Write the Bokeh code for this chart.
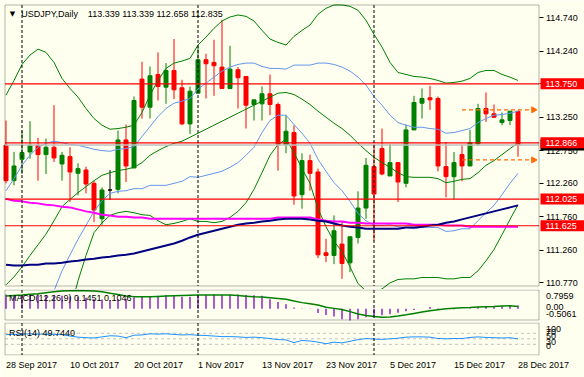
import numpy as np
import pandas as pd
from bokeh.plotting import figure
from bokeh.layouts import column
from bokeh.models import (Range1d, Label, FixedTicker, PrintfTickFormatter, ColumnDataSource,
                          LinearAxis, BoxAnnotation)
from bokeh.core.properties import value
from bokeh.embed import file_html
from bokeh.resources import INLINE

# ---------------- data ----------------
symbol_name = "USDJPY,Daily"
symbol_ohlc = "113.339 113.339 112.658 112.835"
macd_title = "MACD(12,26,9) 0.1451 0.1046"
rsi_title = "RSI(14) 49.7440"

trading_days = pd.bdate_range("2017-09-28", "2017-12-28")
trading_days = trading_days[trading_days != pd.Timestamp("2017-12-25")]

opens = [112.83, 112.30, 112.62, 112.73, 112.83, 112.69, 112.80, 112.55, 112.66, 112.41,
         112.46, 112.26, 111.73, 112.16, 112.17, 112.91, 112.49, 113.82, 113.40, 113.89,
         113.70, 113.95, 113.69, 113.15, 113.61, 114.11, 114.07, 114.00, 113.68, 113.96,
         113.86, 113.44, 113.45, 113.60, 113.44, 112.84, 113.02, 112.09, 112.60, 112.43,
         111.22, 111.18, 111.35, 111.07, 111.45, 111.89, 112.51, 112.78, 112.37, 112.57,
         112.26, 113.06, 113.46, 113.54, 113.53, 112.51, 112.36, 112.69, 112.52, 112.85,
         113.38, 113.30, 113.17, 113.20, 113.339]
highs = [113.20, 112.73, 113.05, 113.19, 112.94, 112.93, 113.43, 112.73, 112.80, 112.56,
         112.51, 112.30, 112.20, 112.46, 113.05, 113.14, 113.56, 114.08, 114.01, 114.22,
         114.06, 114.42, 113.81, 113.71, 114.31, 114.20, 114.41, 114.71, 114.32, 114.00,
         113.86, 113.51, 113.71, 113.89, 113.47, 113.28, 113.13, 112.71, 112.69, 112.48,
         111.43, 111.78, 111.69, 111.46, 112.14, 112.64, 112.85, 113.08, 112.85, 112.57,
         113.14, 113.57, 113.68, 113.72, 113.56, 112.88, 112.73, 112.83, 113.06, 113.45,
         113.62, 113.44, 113.32, 113.34, 113.339]
lows = [112.26, 112.23, 112.40, 112.63, 112.30, 112.40, 112.58, 112.30, 111.98, 112.08,
        112.11, 111.68, 111.64, 112.01, 112.11, 112.28, 112.49, 113.23, 113.23, 113.50,
        113.45, 113.52, 113.13, 113.00, 113.61, 113.53, 113.57, 113.68, 113.68, 113.38,
        113.08, 113.20, 113.20, 113.28, 112.45, 112.71, 111.94, 111.88, 112.15, 111.14,
        111.08, 111.05, 110.83, 110.93, 111.36, 111.73, 111.40, 112.38, 112.37, 111.98,
        112.20, 113.06, 113.23, 113.36, 112.44, 112.05, 112.02, 112.29, 112.52, 112.82,
        113.18, 113.24, 113.13, 113.13, 112.658]
closes = [112.30, 112.52, 112.72, 112.83, 112.69, 112.80, 112.64, 112.68, 112.43, 112.48,
          112.25, 111.86, 112.16, 112.16, 112.91, 112.52, 113.50, 113.40, 113.87, 113.71,
          113.95, 113.66, 113.15, 113.64, 114.11, 114.05, 114.02, 113.68, 113.97, 113.84,
          113.43, 113.51, 113.60, 113.44, 112.84, 113.04, 112.07, 112.60, 112.41, 111.19,
          111.18, 111.55, 111.06, 111.46, 111.89, 112.53, 112.10, 112.40, 112.57, 112.28,
          113.06, 113.47, 113.53, 113.51, 112.52, 112.36, 112.57, 112.52, 112.87, 113.38,
          113.30, 113.25, 113.21, 113.34, 112.835]

bb_mid = [110.74, 110.86, 111.01, 111.18, 111.34, 111.50, 111.70, 111.91, 112.02, 112.12,
          112.21, 112.30, 112.38, 112.42, 112.45, 112.47, 112.50, 112.57, 112.68, 112.75,
          112.81, 112.86, 112.89, 112.95, 113.01, 113.07, 113.13, 113.19, 113.25, 113.31,
          113.37, 113.43, 113.49, 113.55, 113.61, 113.62, 113.59, 113.52, 113.44, 113.34,
          113.25, 113.16, 113.08, 112.98, 112.86, 112.75, 112.65, 112.57, 112.50, 112.42,
          112.36, 112.35, 112.35, 112.35, 112.33, 112.27, 112.29, 112.32, 112.33, 112.42,
          112.53, 112.60, 112.69, 112.78, 112.866]
bb2_upper = [113.58, 113.80, 114.04, 114.18, 114.27, 114.22, 114.07, 113.83, 113.68, 113.55,
             113.38, 113.23, 113.13, 113.07, 113.08, 113.10, 113.13, 113.32, 113.58, 113.80,
             113.98, 114.06, 114.09, 114.13, 114.33, 114.45, 114.58, 114.69, 114.75, 114.78,
             114.76, 114.69, 114.55, 114.42, 114.37, 114.33, 114.46, 114.55, 114.63, 114.79,
             114.88, 114.93, 114.93, 114.91, 114.85, 114.70, 114.49, 114.30, 114.07, 113.92,
             113.89, 113.86, 113.85, 113.83, 113.80, 113.76, 113.77, 113.79, 113.83, 113.92,
             113.95, 113.95, 113.89, 113.85, 113.80]
bb2_lower = [107.91, 107.92, 107.98, 108.18, 108.42, 108.79, 109.33, 109.99, 110.35, 110.80,
             111.18, 111.52, 111.67, 111.78, 111.82, 111.84, 111.82, 111.79, 111.78, 111.70,
             111.64, 111.66, 111.69, 111.73, 111.69, 111.69, 111.67, 111.69, 111.75, 111.84,
             111.97, 112.17, 112.42, 112.68, 112.84, 112.92, 112.72, 112.48, 112.26, 111.88,
             111.61, 111.39, 111.24, 111.01, 110.76, 110.65, 110.62, 110.68, 110.77, 110.82,
             110.83, 110.83, 110.85, 110.85, 110.85, 110.83, 110.83, 110.85, 110.85, 110.95,
             111.10, 111.27, 111.49, 111.72, 111.94]
bb1_upper = [112.15, 112.33, 112.53, 112.68, 112.80, 112.86, 112.89, 112.87, 112.84, 112.83,
             112.80, 112.77, 112.75, 112.74, 112.77, 112.78, 112.81, 112.96, 113.11, 113.26,
             113.38, 113.46, 113.49, 113.53, 113.67, 113.76, 113.85, 113.94, 114.00, 114.04,
             114.06, 114.06, 114.01, 113.98, 113.98, 113.97, 114.03, 114.03, 114.03, 114.06,
             114.06, 114.04, 114.00, 113.94, 113.85, 113.73, 113.56, 113.43, 113.28, 113.17,
             113.13, 113.10, 113.10, 113.08, 113.07, 113.01, 113.02, 113.05, 113.08, 113.17,
             113.23, 113.28, 113.29, 113.31, 113.34]
bb1_lower = [109.33, 109.39, 109.50, 109.68, 109.89, 110.16, 110.65, 110.95, 111.19, 111.42,
             111.63, 111.84, 112.00, 112.11, 112.14, 112.15, 112.18, 112.18, 112.23, 112.23,
             112.23, 112.26, 112.29, 112.36, 112.35, 112.38, 112.41, 112.44, 112.50, 112.57,
             112.68, 112.80, 113.02, 113.20, 113.28, 113.28, 113.14, 113.01, 112.86, 112.62,
             112.44, 112.27, 112.15, 111.99, 111.81, 111.70, 111.63, 111.63, 111.64, 111.61,
             111.60, 111.58, 111.60, 111.60, 111.60, 111.54, 111.55, 111.58, 111.58, 111.70,
             111.82, 111.93, 112.09, 112.26, 112.41]
ma_magenta = [112.03, 112.00, 111.99, 111.97, 111.96, 111.94, 111.93, 111.91, 111.90, 111.87,
              111.84, 111.82, 111.79, 111.78, 111.76, 111.76, 111.75, 111.75, 111.73, 111.73,
              111.73, 111.73, 111.73, 111.73, 111.73, 111.73, 111.73, 111.73, 111.73, 111.73,
              111.73, 111.73, 111.73, 111.73, 111.75, 111.75, 111.75, 111.75, 111.75, 111.72,
              111.70, 111.69, 111.69, 111.67, 111.67, 111.66, 111.66, 111.66, 111.66, 111.66,
              111.66, 111.64, 111.64, 111.64, 111.64, 111.63, 111.63, 111.63, 111.61, 111.61,
              111.61, 111.61, 111.61, 111.61, 111.61]
ma_navy = [111.04, 111.03, 111.03, 111.04, 111.04, 111.06, 111.06, 111.07, 111.09, 111.10,
           111.12, 111.13, 111.15, 111.16, 111.18, 111.19, 111.21, 111.24, 111.27, 111.30,
           111.33, 111.36, 111.40, 111.45, 111.49, 111.52, 111.55, 111.58, 111.61, 111.64,
           111.66, 111.67, 111.69, 111.70, 111.72, 111.73, 111.73, 111.73, 111.72, 111.70,
           111.69, 111.66, 111.63, 111.61, 111.60, 111.58, 111.58, 111.58, 111.58, 111.58,
           111.60, 111.60, 111.61, 111.63, 111.64, 111.67, 111.69, 111.72, 111.75, 111.78,
           111.81, 111.84, 111.87, 111.90, 111.93]

macd_main = [0.62, 0.60, 0.60, 0.61, 0.60, 0.60, 0.58, 0.57, 0.54, 0.52,
             0.48, 0.42, 0.40, 0.38, 0.42, 0.42, 0.50, 0.52, 0.56, 0.57,
             0.59, 0.58, 0.52, 0.52, 0.58, 0.60, 0.62, 0.60, 0.61, 0.62,
             0.60, 0.59, 0.57, 0.42, 0.30, 0.20, 0.06, 0.02, -0.01, -0.18,
             -0.27, -0.33, -0.45, -0.5061, -0.45, -0.37, -0.36, -0.28, -0.24, -0.17,
             -0.10, -0.05, 0.00, 0.08, 0.03, -0.01, -0.02, 0.00, 0.03, 0.08,
             0.10, 0.11, 0.11, 0.13, 0.1451]
macd_signal = [0.56, 0.58, 0.60, 0.63, 0.66, 0.70, 0.74, 0.77, 0.79, 0.7959,
               0.79, 0.77, 0.74, 0.68, 0.62, 0.56, 0.53, 0.52, 0.52, 0.54,
               0.56, 0.57, 0.58, 0.59, 0.60, 0.60, 0.60, 0.60, 0.60, 0.58,
               0.55, 0.52, 0.51, 0.48, 0.45, 0.42, 0.34, 0.27, 0.22, 0.17,
               0.07, 0.02, -0.03, -0.12, -0.22, -0.29, -0.33, -0.36, -0.35, -0.31,
               -0.26, -0.20, -0.14, -0.08, -0.04, 0.00, 0.03, 0.05, 0.06, 0.08,
               0.09, 0.10, 0.12, 0.13, 0.1046]
rsi = [65, 66, 67, 68, 67, 67, 66, 65, 60, 56,
       54, 53, 57, 61, 60, 54, 63, 64, 68, 67,
       68, 66, 64, 65, 63, 62, 60, 58, 58, 57,
       55, 56, 54, 51, 47, 46, 36, 44, 42, 38,
       32, 38, 35, 41, 47, 51, 49, 48, 50, 52,
       56, 57, 57, 56, 51, 50, 51, 51, 55, 57,
       55, 54, 53, 54, 49.744]

date_tick_days = ["2017-09-28", "2017-10-10", "2017-10-20", "2017-11-01", "2017-11-13",
                  "2017-11-23", "2017-12-05", "2017-12-15", "2017-12-28"]
date_tick_labels = ["28 Sep 2017", "10 Oct 2017", "20 Oct 2017", "1 Nov 2017", "13 Nov 2017",
                    "23 Nov 2017", "5 Dec 2017", "15 Dec 2017", "28 Dec 2017"]
price_ticks = [114.740, 114.240, 113.750, 113.250, 112.750, 112.260, 111.760, 111.260, 110.770]
red_levels = [113.750, 112.866, 112.025, 111.625]
bid_price = 112.835
range_levels = [113.36, 112.61]
range_start_day = "2017-12-18"
macd_axis_labels = ["0.7959", "0.00", "-0.5061"]
rsi_levels = [30, 50, 70]
rsi_axis_labels = ["100", "70", "50", "30", "0"]

# ---------------- layout / style ----------------
BG = "#FFFFF0"
FONT = "Liberation Sans"
FS_PX = 9
FS = f"{FS_PX}px"
BULL, BEAR, DOJI = "#008000", "#FF0000", "#000000"

W = 584
PX_PER_BAR = 8.0
FIRST_BAR_PX = 5.5
BORDER_L, BORDER_R = 4.5, 538.5          # panel border (price scale sits right of it)

ADV = {" ": 278, "S": 667, "e": 556, "p": 556, "O": 778, "c": 500, "t": 278,
       "N": 722, "o": 556, "v": 500, "D": 722}


def text_width(s):
    return sum(ADV.get(ch, 556) for ch in s) / 1000.0 * FS_PX


def px_x(px):
    return (px - FIRST_BAR_PX) / PX_PER_BAR


xr = Range1d(px_x(0), px_x(W))
X_L, X_R = px_x(BORDER_L), px_x(BORDER_R)


class Panel:
    """vertical mapping of one sub-window: value v0 sits at global pixel row y0, ppu px per unit"""
    def __init__(self, fig_top, frame_bot, v0, y0, ppu):
        self.fig_top, self.v0, self.y0, self.ppu = fig_top, v0, y0, ppu
        self.hi = self.v(fig_top)
        self.lo = self.v(frame_bot)

    def v(self, gy):
        return self.v0 - (gy - self.y0) / self.ppu

    def dv(self, dpx):
        return dpx / self.ppu


P_MAIN = Panel(0, 289, 113.75, 83.3, 66.8)
P_MACD = Panel(289, 322, 0.7959, 290, 30 / 1.302)
P_RSI = Panel(322, 355, 50, 338.3, 0.275)


def make_fig(height, pan, b_bot, x_axis, border_top, border_bot):
    p = figure(width=W, height=height, x_range=xr, y_range=Range1d(pan.lo, pan.hi), title=None,
               output_backend="svg", toolbar_location=None,
               x_axis_location=("below" if x_axis else None), y_axis_location=None,
               min_border_left=0, min_border_right=0, min_border_top=0, min_border_bottom=b_bot,
               background_fill_color=BG, border_fill_color=BG, outline_line_color=None)
    p.grid.visible = False
    ax = LinearAxis(fixed_location=X_R)
    ax.axis_line_color = None
    ax.minor_tick_line_color = None
    ax.major_tick_in = 0
    ax.major_tick_out = 4
    ax.major_label_standoff = 3
    ax.major_label_text_font = FONT
    ax.major_label_text_font_size = FS
    ax.major_label_text_color = "black"
    p.add_layout(ax, "right")
    p.add_layout(BoxAnnotation(left=X_L, right=X_R, top=pan.v(border_top), bottom=pan.v(border_bot),
                               fill_alpha=0, line_color="black", line_width=1))
    return p, ax


idx = np.arange(len(trading_days))
sep_idx = [i for i in range(1, len(trading_days)) if trading_days[i].month != trading_days[i - 1].month]


def hlines(p, levels, **kw):
    n = len(levels)
    p.segment(x0=[X_L] * n, y0=levels, x1=[X_R] * n, y1=levels, **kw)


# ---------------- main panel ----------------
main, main_ax = make_fig(289, P_MAIN, 0, False, 4.5, 285.5)
main_ax.ticker = FixedTicker(ticks=price_ticks)
main_ax.formatter = PrintfTickFormatter(format="%.3f")

o = np.array(opens); h = np.array(highs); l = np.array(lows); c = np.array(closes)
colors = np.where(c > o, BULL, np.where(c < o, BEAR, DOJI))
src = ColumnDataSource(dict(x=idx, high=h, low=l, top=np.maximum(o, c), bottom=np.minimum(o, c),
                            color=colors))
main.segment(x0="x", y0="low", x1="x", y1="high", line_color="color", line_width=1, source=src)
main.vbar(x="x", width=0.5, top="top", bottom="bottom", fill_color="color",
          line_color="color", line_width=1, source=src)

main.line(idx, bb2_upper, line_color="#008000", line_width=1)
main.line(idx, bb_mid, line_color="#008000", line_width=1)
main.line(idx, bb2_lower, line_color="#008000", line_width=1)
main.line(idx, bb1_upper, line_color="#6495ED", line_width=1)
main.line(idx, bb1_lower, line_color="#6495ED", line_width=1)
main.line(idx, ma_magenta, line_color="#FF00FF", line_width=2)
main.line(idx, ma_navy, line_color="#000080", line_width=2)

hlines(main, [bid_price], line_color="#C0C0C0", line_width=1.5)
hlines(main, red_levels, line_color="#FF0000", line_width=1.2)

rs = trading_days.get_loc(pd.Timestamp(range_start_day))
nr = len(range_levels)
main.segment(x0=[rs] * nr, y0=range_levels, x1=[px_x(530)] * nr, y1=range_levels,
             line_color="#FF6A00", line_width=1.2, line_dash="4 3")
main.scatter(x=[px_x(533)] * nr, y=range_levels, marker="triangle",
             angle=-np.pi / 2, size=6, color="#FF6A00")

title_y = P_MAIN.v(13)
main.add_layout(Label(x=px_x(12), y=title_y, text="\u25bc", text_font="DejaVu Sans",
                      text_font_size="7px", text_align="center", text_baseline="middle",
                      text_color="black"))
main.add_layout(Label(x=px_x(20.7), y=title_y, text=symbol_name, text_font=FONT,
                      text_font_size=FS, text_baseline="middle", text_color="black"))
main.add_layout(Label(x=px_x(87.3), y=title_y, text=symbol_ohlc, text_font=FONT,
                      text_font_size=FS, text_baseline="middle", text_color="black"))

# price boxes on the price scale: bid box first, level boxes on top, all above the axis labels
half = P_MAIN.dv(5.5)


def price_boxes(levels, fill):
    n = len(levels)
    main.quad(left=[px_x(540)] * n, right=[px_x(W)] * n,
              top=[v + half for v in levels], bottom=[v - half for v in levels],
              fill_color=fill, line_color=None, level="overlay")
    main.text(x=[px_x(545)] * n, y=levels, text=[f"{v:.3f}" for v in levels],
              text_color="white", text_font=value(FONT), text_font_size=value(FS),
              text_baseline="middle", text_align="left", level="overlay")


price_boxes([bid_price], "#000000")
price_boxes(red_levels, "#FF0000")

# ---------------- MACD panel ----------------
macd, macd_ax = make_fig(33, P_MACD, 0, False, 289.5, 319.5)
macd.segment(x0=idx, y0=np.zeros(len(idx)), x1=idx, y1=macd_main, line_color="#9932CC", line_width=1.6)
macd.line(idx, macd_signal, line_color="#008000", line_width=1.5)
macd_ticks = [round(P_MACD.v(t), 6) for t in (295, 306.5, 313.5)]
macd_ax.ticker = FixedTicker(ticks=macd_ticks)
macd_ax.major_label_overrides = dict(zip(macd_ticks, macd_axis_labels))
macd_ax.major_tick_line_color = None
macd.add_layout(Label(x=px_x(8.5), y=P_MACD.v(297.3), text=macd_title,
                      text_font=FONT, text_font_size=FS, text_baseline="middle", text_color="black"))

# ---------------- RSI panel ----------------
rsip, rsi_ax = make_fig(55, P_RSI, 22, True, 322.5, 354.5)
hlines(rsip, rsi_levels, line_color="#C0C0C0", line_width=1, line_dash="3 3")
rsip.line(idx, rsi, line_color="#1E90FF", line_width=1)
rsi_ticks = [round(P_RSI.v(t), 6) for t in (328, 331, 335.5, 341, 345.5)]
rsi_ax.ticker = FixedTicker(ticks=rsi_ticks)
rsi_ax.major_label_overrides = dict(zip(rsi_ticks, rsi_axis_labels))
rsi_ax.major_tick_line_color = None
rsip.add_layout(Label(x=px_x(8.5), y=P_RSI.v(332.3), text=rsi_title,
                      text_font=FONT, text_font_size=FS, text_baseline="middle", text_color="black"))

# date labels start at their bar (MT4 style): centred tick shifted by half the label width
xa = rsip.xaxis[0]
tick_idx = [int(trading_days.get_loc(pd.Timestamp(d))) for d in date_tick_days]
tick_pos = [round(i + (text_width(t) / 2.0) / PX_PER_BAR, 4) for i, t in zip(tick_idx, date_tick_labels)]
xa.ticker = FixedTicker(ticks=tick_pos)
xa.major_label_overrides = dict(zip(tick_pos, date_tick_labels))
xa.axis_line_color = None
xa.minor_tick_line_color = None
xa.major_tick_line_color = None
xa.major_tick_in = 0
xa.major_tick_out = 3
xa.major_label_standoff = 1
xa.major_label_text_font = FONT
xa.major_label_text_font_size = FS
xa.major_label_text_color = "black"

# month separators, within each sub-window's border
for p, pan, bt, bb in ((main, P_MAIN, 4.5, 285.5), (macd, P_MACD, 289.5, 319.5), (rsip, P_RSI, 322.5, 354.5)):
    ns = len(sep_idx)
    p.segment(x0=sep_idx, y0=[pan.v(bt)] * ns, x1=sep_idx, y1=[pan.v(bb)] * ns,
              line_color="black", line_width=1, line_dash="3 2")

layout = column(main, macd, rsip, spacing=0)
open("out.html", "w").write(file_html(layout, INLINE))
